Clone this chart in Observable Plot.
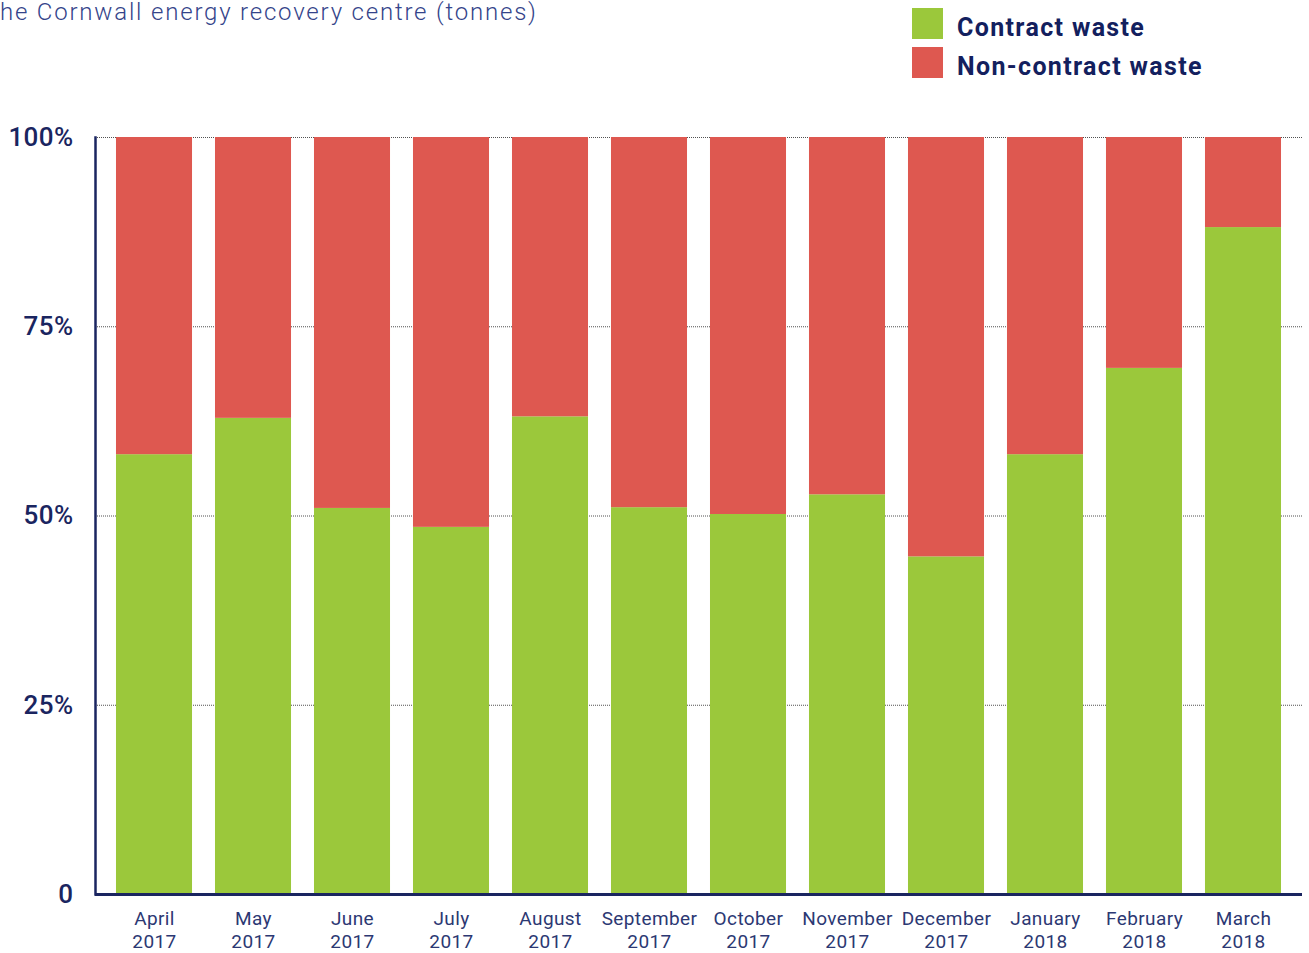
<!DOCTYPE html>
<html>
<head>
<meta charset="utf-8">
<script src="https://cdn.jsdelivr.net/npm/d3@7"></script>
<script src="https://cdn.jsdelivr.net/npm/@observablehq/plot@0.6"></script>
<style>
  html, body { margin: 0; padding: 0; background: #fff; }
  body { width: 1309px; height: 953px; overflow: hidden; font-family: Roboto, "Noto Sans", sans-serif; }
  #header { position: relative; height: 100px; }
  #title { position: absolute; left: 0; top: 0; font-size: 24px; font-weight: 300; letter-spacing: 1.8px; color: #34448a; white-space: nowrap; line-height: 24px; }
  .leg { position: absolute; left: 912px; display: flex; align-items: flex-start; }
  .sw { width: 31px; height: 31px; margin-right: 14px; }
  .lt { font-size: 25px; font-weight: 700; color: #13205e; letter-spacing: 1.35px; padding-top: 5px; line-height: 30px; }
  #chart svg text { letter-spacing: 0.4px; }
</style>
</head>
<body>
<div id="header">
  <div id="title">he Cornwall energy recovery centre (tonnes)</div>
  <div class="leg" style="top:8px"><div class="sw" style="background:#9bc83b"></div><div class="lt">Contract waste</div></div>
  <div class="leg" style="top:47px"><div class="sw" style="background:#de5850"></div><div class="lt">Non-contract waste</div></div>
</div>
<div id="chart"></div>
<script>
const months = ["April\n2017","May\n2017","June\n2017","July\n2017","August\n2017","September\n2017","October\n2017","November\n2017","December\n2017","January\n2018","February\n2018","March\n2018"];
const contractPct = [58.1, 62.9, 51.0, 48.5, 63.1, 51.1, 50.2, 52.8, 44.6, 58.1, 69.5, 88.1];
const seriesNames = ["Contract waste", "Non-contract waste"];
const seriesColors = ["#9bc83b", "#de5850"];
const yTicks = [0, 0.25, 0.5, 0.75, 1];
const gridTicks = [0.25, 0.5, 0.75, 1];

const data = [];
months.forEach((m, i) => {
  data.push({month: m, series: seriesNames[0], value: contractPct[i] / 100});
  data.push({month: m, series: seriesNames[1], value: (100 - contractPct[i]) / 100});
});

const navy = "#1a2560";
const chart = Plot.plot({
  width: 1309,
  height: 853,
  marginTop: 37,
  marginBottom: 59,
  marginLeft: 95,
  marginRight: 7,
  style: {fontFamily: "Roboto, 'Noto Sans', sans-serif", background: "#fff", overflow: "visible"},
  x: {domain: months, paddingInner: 0.232, paddingOuter: 0.212, round: false, label: null},
  y: {domain: [0, 1], label: null},
  color: {domain: seriesNames, range: seriesColors},
  marks: [
    Plot.ruleY(gridTicks, {stroke: "#333", strokeWidth: 1, strokeDasharray: "1,1", strokeOpacity: 0.85}),
    Plot.barY(data, {x: "month", y: "value", fill: "series", order: seriesNames}),
    Plot.axisY(yTicks, {tickSize: 0, tickPadding: 22, fontSize: 26, fontWeight: 500, fill: navy, label: null,
      tickFormat: d => d === 0 ? "0" : Math.round(d * 100) + "%"}),
    Plot.axisX({tickSize: 0, tickPadding: 13, fontSize: 19, lineHeight: 1.26, fill: "#2c3873", label: null}),
    Plot.frame({anchor: "left", stroke: navy, strokeWidth: 2.5}),
    Plot.ruleY([0], {stroke: navy, strokeWidth: 3})
  ]
});
document.getElementById("chart").appendChild(chart);
</script>
</body>
</html>
